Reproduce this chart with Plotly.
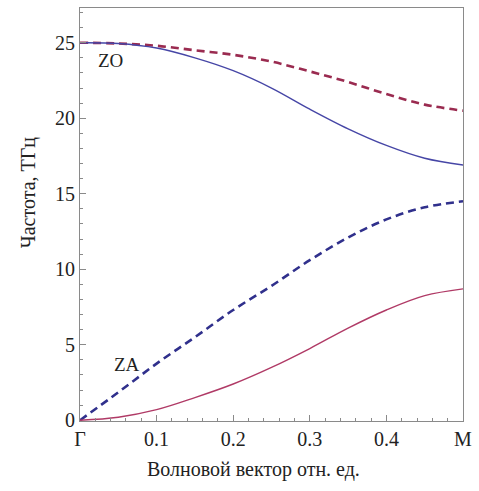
import plotly.graph_objects as go

# Wave vector along Γ–M (relative units)
k = [0.0, 0.05, 0.10, 0.15, 0.20, 0.25, 0.30, 0.35, 0.40, 0.45, 0.50]

# Frequencies, THz
zo_solid = [25.0, 24.95, 24.65, 24.0, 23.15, 22.0, 20.6, 19.3, 18.2, 17.35, 16.9]
zo_dash = [25.0, 24.95, 24.8, 24.5, 24.2, 23.75, 23.1, 22.4, 21.6, 20.9, 20.5]
za_dash = [0.0, 1.85, 3.75, 5.5, 7.3, 8.9, 10.6, 12.1, 13.3, 14.1, 14.5]
za_solid = [0.0, 0.2, 0.7, 1.5, 2.4, 3.5, 4.75, 6.1, 7.3, 8.25, 8.7]

x_tickvals = [0.0, 0.1, 0.2, 0.3, 0.4, 0.5]
x_ticktext = ["Γ", "0.1", "0.2", "0.3", "0.4", "M"]
y_tickvals = [0, 5, 10, 15, 20, 25]

SERIF = "Liberation Serif, Times New Roman, serif"

fig = go.Figure()
fig.add_trace(go.Scatter(x=k, y=zo_dash, mode="lines", line_shape="spline",
                         line=dict(color="#9a2b50", width=2.6, dash="8px,5px")))
fig.add_trace(go.Scatter(x=k, y=zo_solid, mode="lines", line_shape="spline",
                         line=dict(color="#4646a6", width=1.4)))
fig.add_trace(go.Scatter(x=k, y=za_dash, mode="lines", line_shape="spline",
                         line=dict(color="#30308c", width=2.6, dash="8px,5px")))
fig.add_trace(go.Scatter(x=k, y=za_solid, mode="lines", line_shape="spline",
                         line=dict(color="#b03a66", width=1.4)))

fig.add_annotation(x=0.04, y=23.8, text="ZO", showarrow=False,
                   font=dict(family=SERIF, size=19, color="#222"))
fig.add_annotation(x=0.062, y=3.7, text="ZA", showarrow=False,
                   font=dict(family=SERIF, size=19, color="#222"))

fig.add_annotation(xref="paper", yref="paper", x=-0.134, y=0.553,
                   xanchor="center", yanchor="middle",
                   text="Частота, ТГц", textangle=-90, showarrow=False,
                   font=dict(family=SERIF, size=20, color="#222"))
fig.add_annotation(xref="paper", yref="paper", x=0.452, y=-0.118,
                   xanchor="center", yanchor="middle",
                   text="Волновой вектор отн. ед.", showarrow=False,
                   font=dict(family=SERIF, size=20, color="#222"))

axis_common = dict(showgrid=False, zeroline=False, showline=True, mirror=True,
                   linecolor="#8a8a8a", linewidth=1.2, ticks="inside",
                   tickcolor="#8a8a8a", ticklen=6, tickwidth=1,
                   tickfont=dict(family=SERIF, size=20, color="#222"))

fig.update_xaxes(range=[0, 0.5], tickvals=x_tickvals, ticktext=x_ticktext,
                 minor=dict(dtick=0.02, ticks="inside", ticklen=3,
                            tickcolor="#8a8a8a", showgrid=False),
                 **axis_common)
fig.update_yaxes(range=[-0.05, 27.3], tickvals=y_tickvals,
                 minor=dict(dtick=1, ticks="inside", ticklen=3,
                            tickcolor="#8a8a8a", showgrid=False),
                 **axis_common)

fig.update_layout(width=479, height=491, showlegend=False,
                  margin=dict(l=80, r=10, t=7, b=70),
                  plot_bgcolor="white", paper_bgcolor="white")

fig.write_html("out.html")
